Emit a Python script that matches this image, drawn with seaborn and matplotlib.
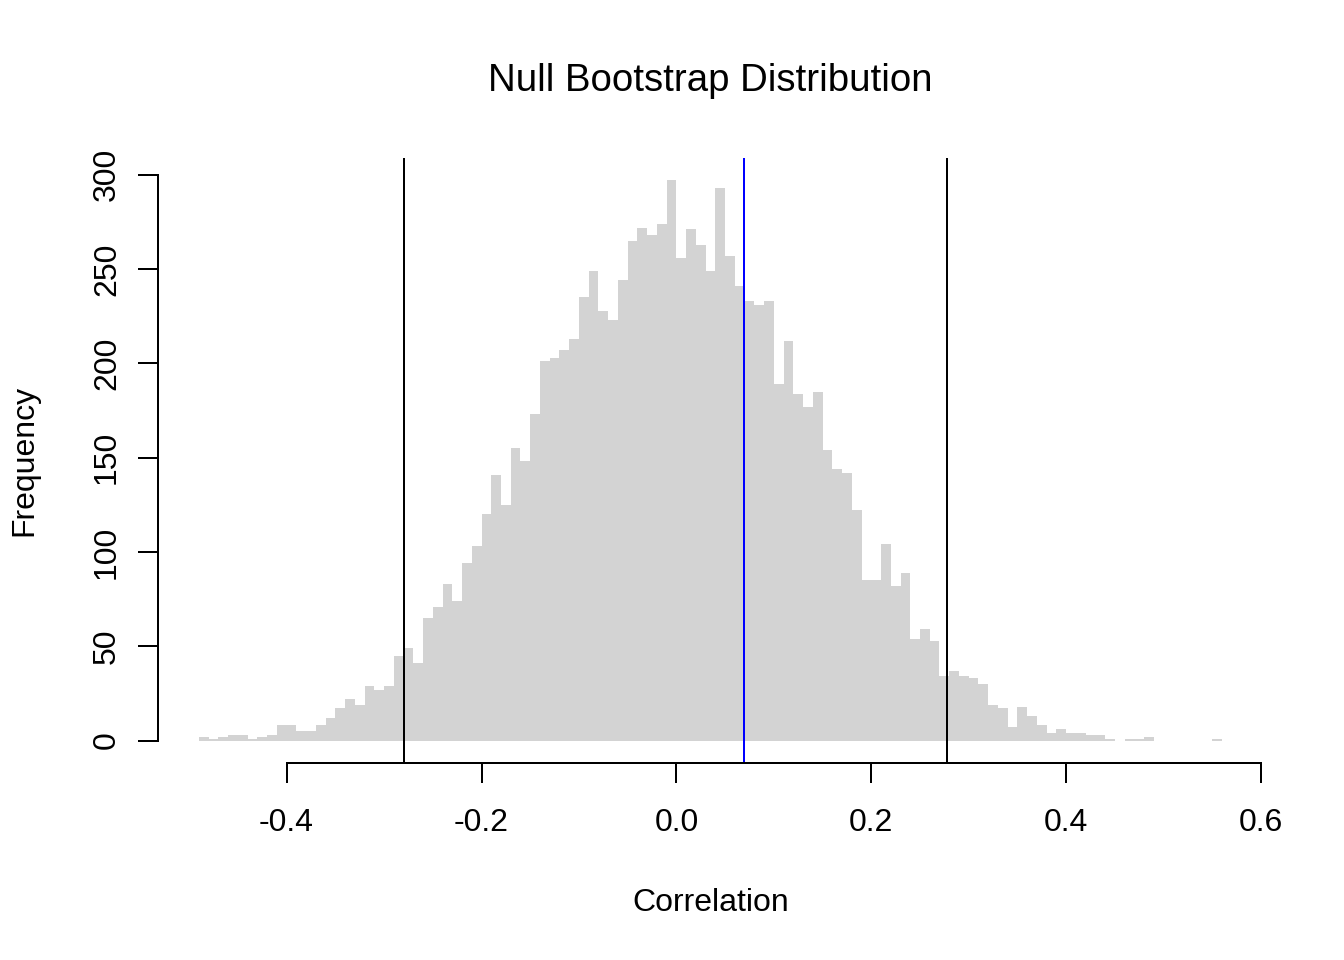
import numpy as np
import pandas as pd
import matplotlib
matplotlib.use('Agg')
import matplotlib.pyplot as plt
import seaborn as sns

# histogram counts, bin width 0.01
bin_width = 0.01
bin_left = np.round(np.arange(-0.49, 0.555, bin_width), 2)
counts = [
    2, 1, 2, 3, 3, 1, 2, 3, 8, 8,
    5, 5, 8, 12, 17, 22, 19, 29, 27, 29,
    45, 49, 41, 65, 71, 83, 74, 94, 103, 120,
    141, 125, 155, 148, 173, 201, 203, 207, 213, 235,
    249, 228, 223, 244, 265, 272, 268, 274, 297,
    256, 271, 263, 249, 293, 257, 241, 233, 231, 233,
    189, 212, 184, 177, 185, 154, 144, 142, 122, 85,
    85, 104, 82, 89, 54, 59, 53, 34, 37, 34,
    33, 30, 19, 17, 7, 18, 13, 8, 4, 6,
    4, 4, 3, 3, 1, 0, 1, 1, 2, 0,
    0, 0, 0, 0, 0, 1,
]
ci_bounds = [-0.28, 0.278]
observed = 0.069
x_ticks = [-0.4, -0.2, 0.0, 0.2, 0.4, 0.6]
x_tick_labels = ['-0.4', '-0.2', '0.0', '0.2', '0.4', '0.6']
y_ticks = [0, 50, 100, 150, 200, 250, 300]

df = pd.DataFrame({'corr': bin_left + bin_width / 2, 'n': counts})
edges = [round(float(e), 2) for e in np.append(bin_left, bin_left[-1] + bin_width)]

sns.set_theme(style='ticks')
plt.rcParams['font.family'] = ['Liberation Sans', 'DejaVu Sans']
plt.rcParams['axes.unicode_minus'] = False
plt.rcParams['text.color'] = 'black'
plt.rcParams['axes.labelcolor'] = 'black'

fig = plt.figure(figsize=(7, 5), dpi=192)
ax = fig.add_axes([158 / 1344, 1 - 763 / 960, 1105 / 1344, 605 / 960])

sns.histplot(data=df, x='corr', weights='n', bins=edges, ax=ax,
             color='#D3D3D3', alpha=1, edgecolor='#D3D3D3', linewidth=0)

for b in ci_bounds:
    ax.axvline(b, color='black', lw=0.75)
ax.axvline(observed, color='blue', lw=0.75)

ax.set_xlim(-0.532, 0.602)
ax.set_ylim(-11.9, 308.9)

for s in ['top', 'right']:
    ax.spines[s].set_visible(False)
ax.spines['left'].set_bounds(0, 300)
ax.spines['bottom'].set_bounds(-0.4, 0.6)
for s in ['left', 'bottom']:
    ax.spines[s].set_linewidth(0.75)
    ax.spines[s].set_color('black')

ax.set_xticks(x_ticks)
ax.set_xticklabels(x_tick_labels)
ax.set_yticks(y_ticks)
ax.set_yticklabels([str(v) for v in y_ticks])
ax.tick_params(axis='both', direction='out', length=7.5, width=0.75,
               colors='black', labelsize=12)
ax.tick_params(axis='x', pad=9.5)
ax.tick_params(axis='y', pad=6)
for lab in ax.get_yticklabels():
    lab.set_rotation(90)
    lab.set_va('center')

ax.set_xlabel('Correlation', fontsize=12, color='black')
ax.xaxis.set_label_coords(0.5, (763 - 911) / 605)
ax.xaxis.label.set_va('baseline')
ax.set_ylabel('Frequency', fontsize=12, color='black')
ax.yaxis.set_label_coords((24 - 158) / 1105, 0.5)
ax.yaxis.label.set_va('center')

ax.set_title('Null Bootstrap Distribution', fontsize=14.4, pad=25, color='black')

fig.savefig('out.png', dpi=192)
